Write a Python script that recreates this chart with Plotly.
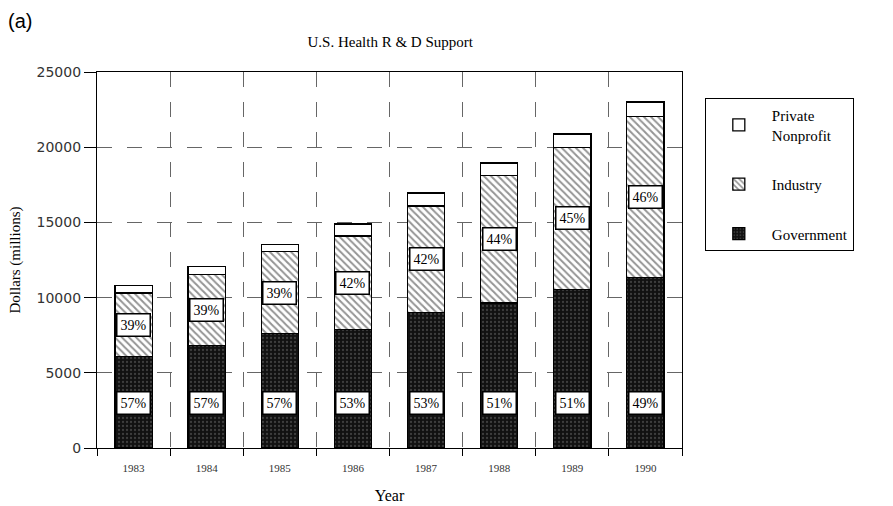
import plotly.graph_objects as go

years = ["1983", "1984", "1985", "1986", "1987", "1988", "1989", "1990"]
government = [6100, 6800, 7600, 7900, 9000, 9650, 10550, 11350]
industry = [4200, 4750, 5450, 6200, 7100, 8450, 9450, 10700]
nonprofit = [500, 500, 500, 800, 850, 850, 880, 950]
gov_pct = ["57%", "57%", "57%", "53%", "53%", "51%", "51%", "49%"]
ind_pct = ["39%", "39%", "39%", "42%", "42%", "44%", "45%", "46%"]

SERIF = "Liberation Serif, Times New Roman, serif"
SANS = "Liberation Sans, Arial, sans-serif"

fig = go.Figure()
fig.add_bar(
    x=years, y=government, name="Government", legendgroup="g", legendrank=3,
    marker=dict(color="#111111", line=dict(color="black", width=1.3),
                pattern=dict(shape=".", fgcolor="#6a6a6a", size=4, solidity=0.25)),
)
fig.add_bar(
    x=years, y=industry, name="Industry", legendgroup="i", legendrank=2,
    marker=dict(color="white", line=dict(color="black", width=1.3),
                pattern=dict(shape="\\", fgcolor="#2a2a2a", size=5, solidity=0.4)),
)
fig.add_bar(
    x=years, y=nonprofit, name="Private<br>Nonprofit", legendgroup="p", legendrank=1,
    marker=dict(color="white", line=dict(color="black", width=1.3)),
)

label_kw = dict(showarrow=False, bgcolor="white", bordercolor="black", borderwidth=1.5,
                borderpad=3, font=dict(family=SERIF, size=14, color="black"))
for i, yr in enumerate(years):
    fig.add_annotation(x=i, y=3000, text=gov_pct[i], **label_kw)
    fig.add_annotation(x=i, y=government[i] + industry[i] / 2, text=ind_pct[i], **label_kw)

fig.add_annotation(xref="paper", yref="paper", x=-0.155, y=1.135, xanchor="left", yanchor="middle",
                   text="(a)", showarrow=False, font=dict(family=SANS, size=20, color="black"))

fig.update_layout(
    width=893, height=506,
    barmode="stack", bargap=0.49,
    plot_bgcolor="white", paper_bgcolor="white",
    margin=dict(l=97, r=211, t=72, b=58),
    title=dict(text="U.S. Health R & D Support", x=0.437, xanchor="center", y=0.918, yanchor="middle",
               font=dict(family=SERIF, size=15, color="black")),
    showlegend=True,
    legend=dict(x=1.039, y=0.931, xanchor="left", yanchor="top", traceorder="grouped",
                bordercolor="black", borderwidth=1, bgcolor="white", tracegroupgap=27,
                itemwidth=56, font=dict(family=SERIF, size=15, color="black")),
    xaxis=dict(
        type="category", range=[-0.5, len(years) - 0.5], tickson="boundaries", ticks="outside",
        ticklen=7, tickcolor="black", tickangle=0, ticklabelstandoff=10, automargin=False,
        showgrid=True, gridcolor="#666666", griddash="longdash", gridwidth=1,
        showline=True, linecolor="black", linewidth=1.3, mirror=True,
        tickfont=dict(family=SERIF, size=11, color="#333"),
        title=dict(text="Year", font=dict(family=SERIF, size=16, color="black"), standoff=16),
    ),
    yaxis=dict(
        range=[0, 25000], dtick=5000, tickformat="d", ticks="outside", ticklen=12, tickcolor="black",
        showgrid=True, gridcolor="#666666", griddash="longdash", gridwidth=1, zeroline=False,
        showline=True, linecolor="black", linewidth=1.3, mirror=True, automargin=False,
        tickfont=dict(family="DejaVu Sans, sans-serif", size=14, color="#333"),
        title=dict(text="Dollars (millions)", font=dict(family=SERIF, size=15, color="black"), standoff=12),
    ),
)

fig.write_html("out.html")
